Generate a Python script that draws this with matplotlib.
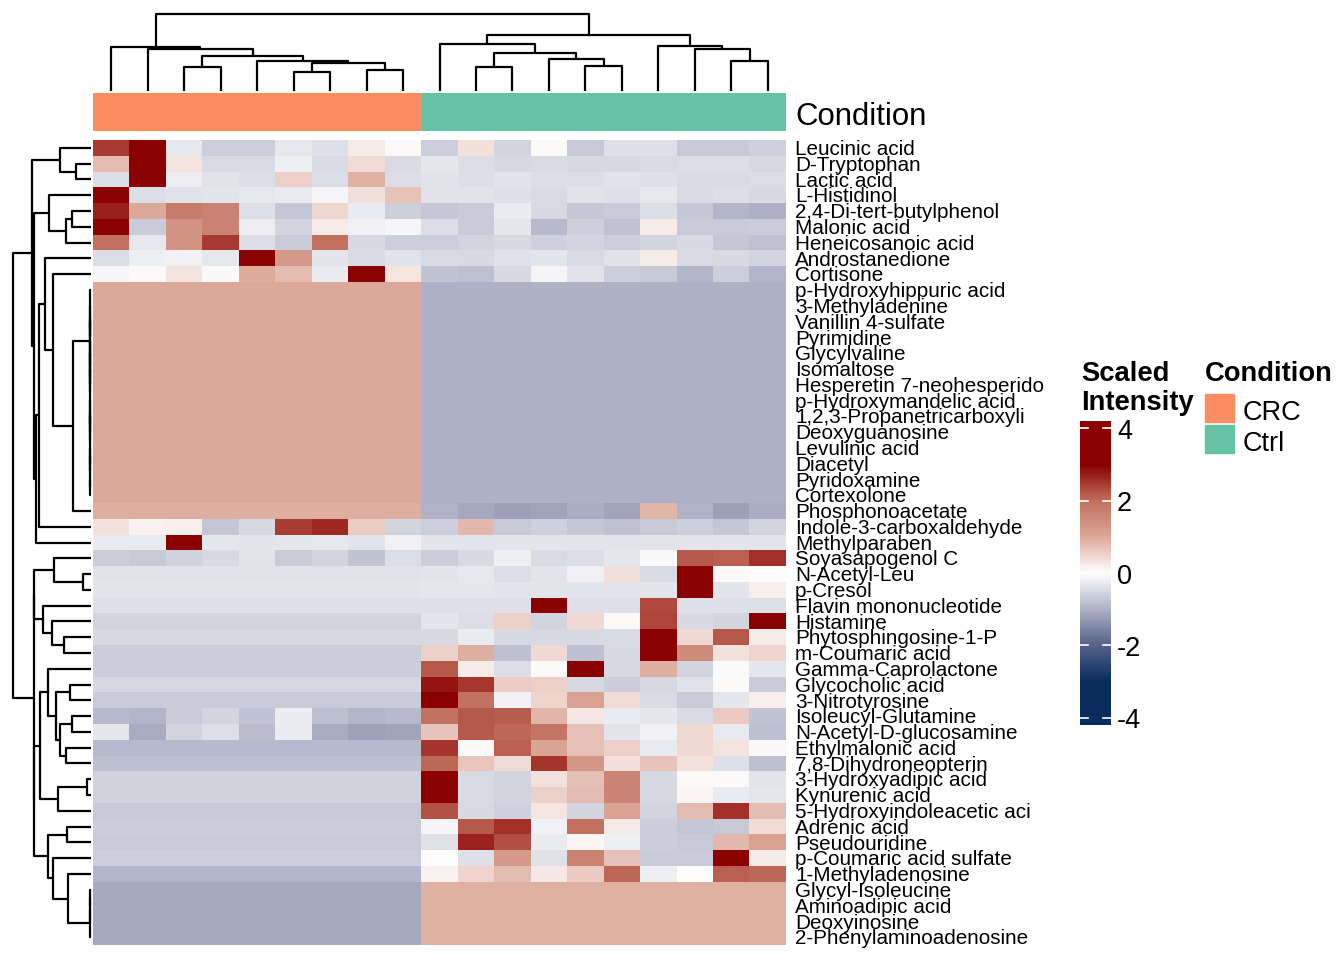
import numpy as np
import matplotlib
matplotlib.use("Agg")
import matplotlib.pyplot as plt
from matplotlib.colors import LinearSegmentedColormap, ListedColormap, Normalize

plt.rcParams['font.family'] = ['Liberation Sans', 'DejaVu Sans']

##==========================================
# Data
##==========================================
metabolites = [
    'Leucinic acid', 'D-Tryptophan', 'Lactic acid', 'L-Histidinol',
    '2,4-Di-tert-butylphenol', 'Malonic acid', 'Heneicosanoic acid',
    'Androstanedione', 'Cortisone', 'p-Hydroxyhippuric acid', '3-Methyladenine',
    'Vanillin 4-sulfate', 'Pyrimidine', 'Glycylvaline', 'Isomaltose',
    'Hesperetin 7-neohesperido', 'p-Hydroxymandelic acid',
    '1,2,3-Propanetricarboxyli', 'Deoxyguanosine', 'Levulinic acid', 'Diacetyl',
    'Pyridoxamine', 'Cortexolone', 'Phosphonoacetate', 'Indole-3-carboxaldehyde',
    'Methylparaben', 'Soyasapogenol C', 'N-Acetyl-Leu', 'p-Cresol',
    'Flavin mononucleotide', 'Histamine', 'Phytosphingosine-1-P',
    'm-Coumaric acid', 'Gamma-Caprolactone', 'Glycocholic acid',
    '3-Nitrotyrosine', 'Isoleucyl-Glutamine', 'N-Acetyl-D-glucosamine',
    'Ethylmalonic acid', '7,8-Dihydroneopterin', '3-Hydroxyadipic acid',
    'Kynurenic acid', '5-Hydroxyindoleacetic aci', 'Adrenic acid',
    'Pseudouridine', 'p-Coumaric acid sulfate', '1-Methyladenosine',
    'Glycyl-Isoleucine', 'Aminoadipic acid', 'Deoxyinosine',
    '2-Phenylaminoadenosine']

condition = ['CRC'] * 9 + ['Ctrl'] * 10
cond_colors = {'CRC': '#FC8D62', 'Ctrl': '#66C2A5'}

# scaled intensity, one row per metabolite (9 CRC samples, 10 Ctrl samples)
intensity = [
    [2.49, 3.5, -0.28, -0.63, -0.63, -0.28, -0.4, 0.22, 0.05, -0.63, 0.36, -0.55, 0.05, -0.7, -0.4, -0.4, -0.7, -0.7, -0.6],
    [0.76, 3.5, 0.3, -0.46, -0.46, -0.2, -0.46, 0.4, -0.47, -0.3, -0.43, -0.5, -0.46, -0.5, -0.5, -0.46, -0.43, -0.43, -0.5],
    [-0.42, 3.5, -0.22, -0.37, -0.42, 0.54, -0.43, 0.9, -0.43, -0.37, -0.43, -0.37, -0.43, -0.43, -0.37, -0.4, -0.46, -0.46, -0.43],
    [3.5, -0.43, -0.37, -0.33, -0.28, -0.25, -0.1, 0.36, 0.7, -0.37, -0.37, -0.41, -0.46, -0.37, -0.41, -0.28, -0.46, -0.43, -0.48],
    [2.72, 1.0, 1.8, 1.66, -0.4, -0.72, 0.45, -0.24, -0.63, -0.72, -0.66, -0.24, -0.48, -0.72, -0.66, -0.43, -0.72, -0.95, -1.02],
    [3.5, -0.66, 1.37, 1.66, -0.22, -0.55, 0.22, -0.17, -0.1, -0.43, -0.67, -0.3, -0.9, -0.61, -0.8, 0.22, -0.66, -0.67, -0.65],
    [2.0, -0.28, 1.37, 2.48, -0.43, -0.66, 2.0, -0.48, -0.63, -0.63, -0.55, -0.48, -0.6, -0.55, -0.63, -0.55, -0.48, -0.72, -0.8],
    [-0.43, -0.2, -0.17, -0.28, 3.5, 1.25, -0.33, -0.46, -0.37, -0.47, -0.48, -0.38, -0.34, -0.47, -0.38, 0.22, -0.47, -0.48, -0.55],
    [-0.1, 0.05, 0.3, -0.08, 0.94, 0.76, -0.25, 3.5, 0.28, -0.77, -0.8, -0.48, -0.12, -0.37, -0.63, -0.7, -0.95, -0.63, -0.95],
    [1.0] * 9 + [-1.0] * 10,
    [1.0] * 9 + [-1.0] * 10,
    [1.0] * 9 + [-1.0] * 10,
    [1.0] * 9 + [-1.0] * 10,
    [1.0] * 9 + [-1.0] * 10,
    [1.0] * 9 + [-1.0] * 10,
    [1.0] * 9 + [-1.0] * 10,
    [1.0] * 9 + [-1.0] * 10,
    [1.0] * 9 + [-1.0] * 10,
    [1.0] * 9 + [-1.0] * 10,
    [1.0] * 9 + [-1.0] * 10,
    [1.0] * 9 + [-1.0] * 10,
    [1.0] * 9 + [-1.0] * 10,
    [1.0] * 9 + [-1.0] * 10,
    [0.92] * 9 + [-0.97, -1.1, -1.2, -1.18, -1.05, -1.18, 0.85, -0.97, -1.2, -1.05],
    [0.33, 0.15, 0.18, -0.75, -0.48, 2.45, 2.63, 0.58, -0.55, -0.63, 0.8, -0.69, -0.6, -0.73, -0.8, -0.69, -0.63, -0.73, -0.55],
    [-0.27, -0.27, 3.5, -0.3, -0.33, -0.3, -0.28, -0.33, -0.18] + [-0.33] * 10,
    [-0.65, -0.69, -0.58, -0.48, -0.36, -0.67, -0.55, -0.77, -0.43, -0.65, -0.48, -0.21, -0.46, -0.43, -0.3, -0.08, 2.2, 2.14, 2.57],
    [-0.37] * 9 + [-0.33, -0.28, -0.43, -0.36, -0.18, 0.35, -0.46, 3.5, 0.05, 0.03],
    [-0.33] * 9 + [-0.3, -0.3, -0.33, -0.33, -0.33, -0.33, -0.33, 3.5, -0.33, 0.18],
    [-0.4] * 9 + [-0.4, -0.4, -0.4, 3.5, -0.4, -0.4, 2.34, -0.4, -0.4, -0.4],
    [-0.55] * 9 + [-0.33, -0.43, 0.52, -0.55, 0.44, 0.05, 2.38, -0.48, -0.55, 3.5],
    [-0.48] * 9 + [-0.48, -0.24, -0.48, -0.48, -0.48, -0.46, 3.5, 0.43, 2.2, 0.22],
    [-0.64] * 9 + [0.52, 0.92, -0.82, 0.43, -0.82, -0.48, 3.5, 1.5, 0.33, 0.48],
    [-0.64] * 9 + [2.21, 0.22, -0.43, 0.05, 3.5, -0.48, 0.92, -0.56, -0.05, -0.3],
    [-0.52] * 9 + [2.82, 2.5, 0.56, 0.54, -0.5, -0.65, -0.5, -0.37, 0.05, -0.66],
    [-0.67] * 9 + [3.5, 2.0, -0.18, 0.48, 1.1, 0.4, -0.46, -0.67, -0.3, 0.18],
    [-0.9, -0.95, -0.67, -0.54, -0.77, -0.24, -0.82, -0.95, -0.9, 2.0, 2.21, 2.18, 0.84, 0.27, -0.24, -0.3, -0.46, 0.6, -0.77],
    [-0.3, -1.07, -0.55, -0.4, -0.85, -0.23, -1.06, -1.19, -1.15, 0.68, 2.21, 2.07, 1.9, 0.72, -0.33, -0.15, 0.44, -0.27, -0.82],
    [-0.9] * 9 + [2.52, 0.05, 2.14, 1.05, 0.72, 0.54, -0.27, 0.44, 0.3, -0.08],
    [-0.82] * 9 + [2.07, 0.64, 0.4, 2.52, 1.3, 0.36, 0.68, 0.33, -0.4, -0.82],
    [-0.59] * 9 + [3.5, -0.46, -0.55, 0.33, 0.73, 1.63, -0.5, 0.05, 0.05, -0.33],
    [-0.59] * 9 + [3.5, -0.46, -0.55, 0.52, 0.75, 1.63, -0.5, 0.1, -0.24, -0.3],
    [-0.7] * 9 + [2.28, -0.48, -0.6, 0.28, -0.55, 1.08, -0.55, 0.78, 2.57, 0.74],
    [-0.64] * 9 + [-0.12, 2.2, 2.57, -0.15, 2.0, 0.24, -0.65, -0.73, -0.7, 0.4],
    [-0.67] * 9 + [-0.38, 2.68, 2.29, -0.24, 0.1, -0.2, -0.65, -0.7, 0.82, 1.1],
    [-0.63] * 9 + [0.03, -0.4, 1.25, -0.38, 1.66, 0.72, -0.67, -0.67, 3.5, 0.24],
    [-0.95] * 9 + [0.15, 0.48, 0.77, 0.25, 0.6, 2.07, -0.2, 0.03, 2.14, 2.07],
    [-1.1] * 9 + [0.9] * 10,
    [-1.1] * 9 + [0.9] * 10,
    [-1.1] * 9 + [0.9] * 10,
    [-1.1] * 9 + [0.9] * 10,
]

# hclust style merges: negative = leaf (1-based, display order), positive = earlier merge
col_merge = [(-6, -7, 57), (-8, -9, 63), (-3, -4, 72), (1, 2, 82), (-5, 4, 89),
             (3, 5, 105), (-2, 6, 125), (-1, 7, 132), (-11, -12, 72), (-14, -15, 75),
             (-13, 10, 96), (9, 11, 112), (-10, 12, 139), (-18, -19, 90), (-17, 14, 126),
             (-16, 15, 135), (13, 16, 166), (8, 17, 230)]

row_merge = [(-12, -13, 2), (-11, 1, 2), (-15, -16, 2), (-14, 3, 2), (2, 4, 2),
             (-18, -19, 2), (-17, 6, 2), (-20, -21, 2), (-22, -23, 2), (8, 9, 2),
             (7, 10, 2), (5, 11, 2), (-10, 12, 2), (13, -24, 54), (-9, 14, 114),
             (-8, 15, 138), (16, -25, 154), (17, -26, 165), (-2, -3, 44), (-1, 19, 92),
             (-5, -6, 56), (21, -7, 75), (-4, 22, 126), (23, 18, 169), (20, 24, 176),
             (-28, -29, 22), (-27, 26, 110), (-32, -33, 79), (-31, 28, 117), (-30, 29, 142),
             (27, 30, 171), (-35, -36, 63), (-37, -38, 57), (-39, -40, 75), (33, 34, 92),
             (32, 35, 104), (-34, 36, 127), (-41, -42, 10), (38, -43, 97), (37, 39, 152),
             (-44, -45, 71), (-48, -49, 2), (42, -50, 2), (43, -51, 2), (-47, 44, 69),
             (-46, 45, 112), (41, 46, 127), (40, 47, 170), (31, 48, 171), (25, 49, 232)]

cbar_ticks = [-4, -2, 0, 2, 4]

##==========================================
# Helpers
##==========================================
W, H = 1344, 960

def box(x0, y0, x1, y1):
    # pixel box (top-left origin) -> figure fraction rect
    return [x0 / W, 1 - y1 / H, (x1 - x0) / W, (y1 - y0) / H]

def dendro_segments(merge):
    pos, ht, segs = {}, {}, []
    for k, (a, b, h) in enumerate(merge, start=1):
        pa, ha = ((-a - 0.5), 0) if a < 0 else (pos[a], ht[a])
        pb, hb = ((-b - 0.5), 0) if b < 0 else (pos[b], ht[b])
        segs.append(([pa, pa, pb, pb], [ha, h, h, hb]))
        pos[k] = (pa + pb) / 2
        ht[k] = h
    return segs

# colour scale (white centre, navy / darkred ends)
anchors = [(-4.2, '#0B2D5E'), (-3.0, '#0B2D5E'), (-2.0, '#55638A'), (-1.1, '#A6AAC0'),
           (-1.0, '#AFB2C7'), (0.0, '#FFFFFF'), (1.0, '#DCA899'), (2.0, '#C2705F'),
           (3.0, '#8B0000'), (4.2, '#8B0000')]
vmin, vmax = -4.2, 4.2
cmap = LinearSegmentedColormap.from_list(
    'scaled', [((v - vmin) / (vmax - vmin), c) for v, c in anchors], N=512)
norm = Normalize(vmin, vmax)

data = np.array(intensity)
nrow, ncol = data.shape

fig = plt.figure(figsize=(W / 100, H / 100), dpi=100)

##==========================================
# Heatmap
##==========================================
hm_top, hm_bot = 140, 945
ax = fig.add_axes(box(93, hm_top, 786, hm_bot))
ax.imshow(data, cmap=cmap, norm=norm, aspect='auto', interpolation='nearest',
          extent=(0, ncol, nrow, 0))
ax.set_axis_off()
row_h = (hm_bot - hm_top) / nrow
for i, name in enumerate(metabolites):
    y_base = hm_top + (i + 0.5) * row_h + 7.2
    fig.text(795 / W, 1 - y_base / H, name, fontsize=14.9, va='baseline', ha='left')

# annotation bar
ax_ann = fig.add_axes(box(93, 93, 786, 131))
codes = np.array([[0 if c == 'CRC' else 1 for c in condition]])
ax_ann.imshow(codes, cmap=ListedColormap([cond_colors['CRC'], cond_colors['Ctrl']]),
              aspect='auto', interpolation='nearest', extent=(0, ncol, 1, 0))
ax_ann.set_axis_off()
fig.text(795 / W, 1 - 125 / H, 'Condition', fontsize=22.4, va='baseline', ha='left')

##==========================================
# Dendrograms
##==========================================
ax_top = fig.add_axes(box(93, 14, 786, 90.7))
for xs, ys in dendro_segments(col_merge):
    ax_top.plot(xs, ys, color='black', lw=1.6, clip_on=False, solid_capstyle='butt')
ax_top.set_xlim(0, ncol)
ax_top.set_ylim(0, 230)
ax_top.set_axis_off()

ax_left = fig.add_axes(box(13.3, hm_top, 90.7, hm_bot))
for ys, xs in dendro_segments(row_merge):
    ax_left.plot(xs, ys, color='black', lw=1.6, clip_on=False, solid_capstyle='butt')
ax_left.set_xlim(232, 0)
ax_left.set_ylim(nrow, 0)
ax_left.set_axis_off()

##==========================================
# Legends
##==========================================
cb_top, cb_bot = 421, 725
ax_cb = fig.add_axes(box(1080, cb_top, 1111, cb_bot))
grad = np.linspace(vmax, vmin, 400)[:, None]
ax_cb.imshow(grad, cmap=cmap, norm=norm, aspect='auto', extent=(0, 1, vmin, vmax))
ax_cb.set_xlim(0, 1)
ax_cb.set_ylim(vmin, vmax)
for v in cbar_ticks:
    ax_cb.plot([0, 0.25], [v, v], color='white', lw=1.2)
    ax_cb.plot([0.75, 1], [v, v], color='white', lw=1.2)
    y_px = cb_top + (vmax - v) / (vmax - vmin) * (cb_bot - cb_top)
    fig.text(1117 / W, 1 - (y_px + 10.5) / H, '%d' % v, fontsize=19.5,
             va='baseline', ha='left')
ax_cb.set_axis_off()

fig.text(1081 / W, 1 - 381 / H, 'Scaled', fontsize=19.7, fontweight='bold',
         va='baseline', ha='left')
fig.text(1081 / W, 1 - 410.5 / H, 'Intensity', fontsize=19.7, fontweight='bold',
         va='baseline', ha='left')
fig.text(1205 / W, 1 - 381 / H, 'Condition', fontsize=19.7, fontweight='bold',
         va='baseline', ha='left')

for k, lab in enumerate(['CRC', 'Ctrl']):
    y0 = 394 + k * 31
    fig.patches.append(plt.Rectangle((1205 / W, 1 - (y0 + 28) / H), 29 / W, 28 / H,
                                     transform=fig.transFigure, color=cond_colors[lab]))
    fig.text(1243 / W, 1 - (y0 + 26) / H, lab, fontsize=19.5, va='baseline', ha='left')

fig.savefig('out.png', dpi=100)
